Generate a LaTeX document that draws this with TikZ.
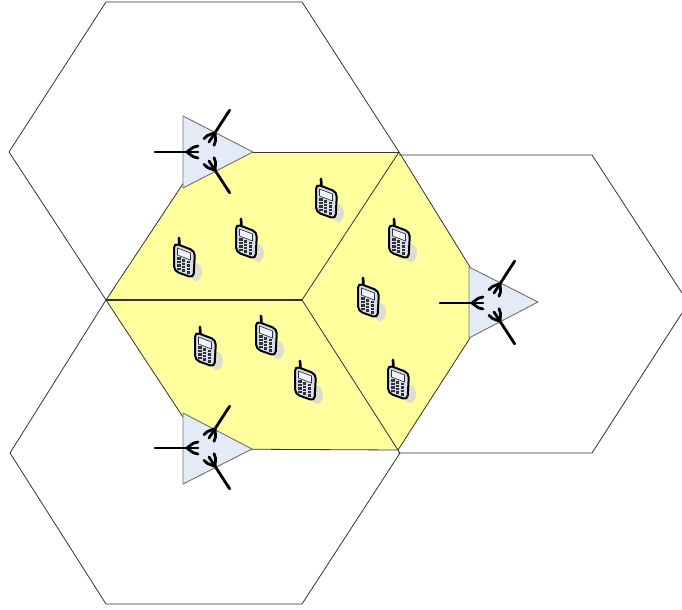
\documentclass[tikz,border=0pt]{standalone}
\definecolor{cellyellow}{RGB}{255,255,158}
\definecolor{sectorblue}{RGB}{228,234,246}
\definecolor{phonebody}{RGB}{214,222,234}
\definecolor{phonescreen}{RGB}{240,243,248}
\definecolor{phoneshadow}{RGB}{222,222,205}
\tikzset{
  x=0.75pt,y=-0.75pt,
  hexline/.style={draw=black!80,line width=0.6pt,line join=round},
  sector/.style={fill=sectorblue,draw=black!55,line width=0.7pt,line join=round},
  armline/.style={line width=2.1pt,line cap=round},
  pics/arm/.style={code={
    \draw[armline] (-#1,0) -- (0,0);
    \draw[armline,line join=round] (0,-6) .. controls (-4,-5.5) .. (-11,0) .. controls (-4,5.5) .. (0,6);
  }},
  pics/phone/.style={code={
    \fill[phoneshadow] (12,13) ellipse (6 and 9);
    \draw[black,line width=2pt,line cap=round] (-5,-21) -- (-4.5,-13);
    \draw[black,line width=1.5pt,fill=phonebody,rounded corners=3.5pt] (-10,-16) -- (11,-8) -- (9.5,19) -- (-10,12) -- cycle;
    \draw[black!80,line width=0.5pt,fill=phonescreen] (-6.5,-11) -- (6.5,-6) -- (6.5,1) -- (-6.5,-4) -- cycle;
    \foreach \gi in {0,1,2}{
      \foreach \gj in {0,1,2,3}{
        \fill[black!80,shift={({-5+4.6*\gi},{-0.5+1.8*\gi+3.4*\gj})}] (-1.6,-1.2) rectangle (1.6,1.2);
      }
    }
  }}
}
\begin{document}
\begin{tikzpicture}
\useasboundingbox (0,0) rectangle (682,610);
% yellow cells
\fill[cellyellow] (106,300) -- (204,152) -- (399,152) -- (470,267) -- (470,338) -- (398,450) -- (204,449) -- cycle;
% outer hexagons
\draw[hexline] (9,152) -- (106,2) -- (302,2) -- (399,152) -- (302,300) -- (106,300) -- cycle;
\draw[hexline] (10,453) -- (106,300) -- (302,300) -- (398,450) -- (400,453) -- (302,604) -- (106,604) -- cycle;
\draw[hexline] (399,155) -- (592,155) -- (682,293);
\draw[hexline] (682,313) -- (592,453) -- (398,453);
% inner cell borders
\draw[hexline] (204,152) -- (399,152);
\draw[hexline] (204,449) -- (398,450);
\draw[hexline] (106,300) -- (204,152);
\draw[hexline] (106,300) -- (204,449);
\draw[line width=1pt,black!80] (106,300) -- (302,300);
\draw[hexline] (399,152) -- (470,267);
\draw[hexline] (398,450) -- (470,338);
% sector triangles
\draw[sector] (183,116) -- (253,152) -- (183,188) -- cycle;
\draw[sector] (183,413) -- (252,449) -- (183,484) -- cycle;
\draw[sector] (469,267) -- (538,302) -- (469,338) -- cycle;
% antennas
\foreach \cx/\cy in {198/152,198/448,483/303}{
  \pic at (\cx,\cy) {arm=43};
  \pic[rotate=-123] at (\cx+11,\cy-10) {arm=38};
  \pic[rotate=123] at (\cx+11,\cy+9) {arm=38};
}
% phones
\foreach \px/\py in {184/259,246/240,326/200,399/240,368/299,398/381,205/348,266/337,305/382}{
  \pic at (\px,\py) {phone};
}
\end{tikzpicture}
\end{document}
